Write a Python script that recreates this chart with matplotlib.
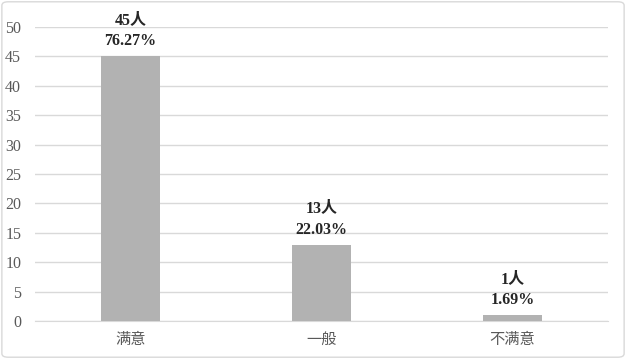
import matplotlib
matplotlib.use("Agg")
import matplotlib.pyplot as plt
from matplotlib.patches import FancyBboxPatch

categories = ["满意", "一般", "不满意"]
counts = [45, 13, 1]
percents = ["76.27%", "22.03%", "1.69%"]
yticks = [0, 5, 10, 15, 20, 25, 30, 35, 40, 45, 50]

serif = ["Liberation Serif", "Noto Sans CJK SC"]
cjk = ["Noto Sans CJK SC"]

fig = plt.figure(figsize=(6.26, 3.59), dpi=100)
fig.patch.set_facecolor("white")
border = FancyBboxPatch((0.003, 0.005), 0.994, 0.99, boxstyle="round,pad=0,rounding_size=0.01",
                        transform=fig.transFigure, facecolor="none", edgecolor="#d9d9d9", linewidth=1)
fig.patches.append(border)

ax = fig.add_axes([0.056, 0.106, 0.915, 0.819])
x = range(len(categories))
ax.bar(x, counts, width=0.31, color="#b2b2b2", zorder=3)
ax.set_xlim(-0.5, 2.5)
ax.set_ylim(0, 50)
ax.set_yticks(yticks)
ax.set_yticklabels([str(v) for v in yticks], family=serif, fontsize=11.5, color="#595959")
ax.set_xticks(list(x))
ax.set_xticklabels(categories, family=cjk, fontsize=11, color="#595959")
ax.tick_params(axis="both", length=0)
ax.tick_params(axis="x", pad=7)
ax.tick_params(axis="y", pad=10)
ax.grid(axis="y", color="#d9d9d9", linewidth=1, zorder=0)
for s in ["top", "right", "left"]:
    ax.spines[s].set_visible(False)
ax.spines["bottom"].set_color("#d9d9d9")

for i, (c, p) in enumerate(zip(counts, percents)):
    ax.annotate(f"{c}人\n{p}", xy=(i, c), xytext=(0, 5), textcoords="offset points",
                ha="center", va="bottom", family=serif, fontsize=11.5, fontweight="bold",
                color="#262626", linespacing=1.45)

fig.savefig("out.png", dpi=100)
